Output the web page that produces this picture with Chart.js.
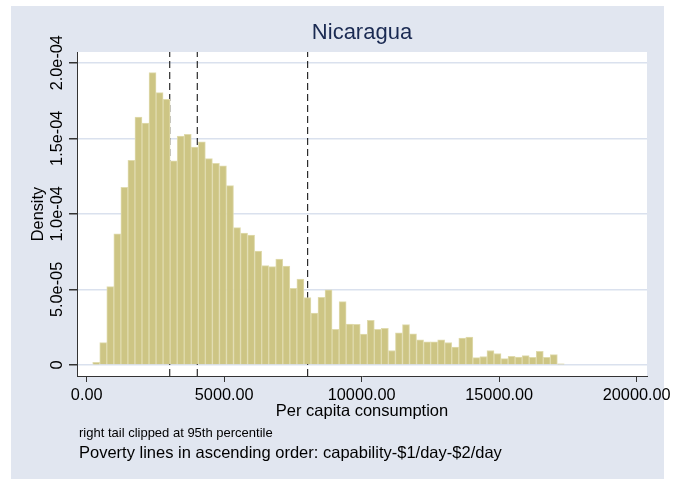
<!DOCTYPE html>
<html>
<head>
<meta charset="utf-8">
<script src="https://cdn.jsdelivr.net/npm/chart.js@4.4.0/dist/chart.umd.min.js"></script>
<style>
  body { margin: 0; background: #ffffff; }
  #panel { position: absolute; left: 11px; top: 6px; width: 653px; height: 473px; background: #e1e6f0; }
  #chart { position: absolute; left: 0; top: 0; }
  .note { position: absolute; left: 79px; color: #000; font-family: "Liberation Sans", Arial, sans-serif; white-space: nowrap; }
  #note1 { top: 426px; font-size: 13px; line-height: 13px; }
  #note2 { top: 444px; font-size: 16.5px; line-height: 16px; }
</style>
</head>
<body>
<div id="panel"></div>
<canvas id="chart" width="686" height="479"></canvas>
<div class="note" id="note1">right tail clipped at 95th percentile</div>
<div class="note" id="note2">Poverty lines in ascending order: capability-$1/day-$2/day</div>
<script>
// Histogram bins (per capita consumption)
var binStart = 218;
var binWidth = 256;
var densities = [
    0.18e-5, 1.48e-5, 5.18e-5, 8.67e-5, 11.76e-5, 13.54e-5, 16.41e-5, 16.01e-5, 19.34e-5, 18.02e-5,
    17.58e-5, 13.50e-5, 15.15e-5, 15.26e-5, 14.42e-5, 14.76e-5, 13.65e-5, 13.34e-5, 13.17e-5, 11.87e-5,
    9.09e-5, 8.73e-5, 8.60e-5, 7.54e-5, 6.57e-5, 6.51e-5, 7.01e-5, 6.55e-5, 5.07e-5, 5.69e-5,
    4.46e-5, 3.44e-5, 4.48e-5, 4.98e-5, 2.36e-5, 4.19e-5, 2.71e-5, 2.69e-5, 2.04e-5, 2.96e-5,
    2.36e-5, 2.42e-5, 0.96e-5, 2.13e-5, 2.67e-5, 2.07e-5, 1.67e-5, 1.53e-5, 1.53e-5, 1.67e-5,
    1.49e-5, 1.18e-5, 1.78e-5, 1.84e-5, 0.49e-5, 0.56e-5, 0.96e-5, 0.76e-5, 0.42e-5, 0.58e-5,
    0.53e-5, 0.62e-5, 0.51e-5, 0.91e-5, 0.51e-5, 0.69e-5, 0.07e-5
];

// Poverty lines: capability, $1/day, $2/day
var povertyLines = [3020, 4020, 8035];

// Axes
var xTicks = [0, 5000, 10000, 15000, 20000];
var xTickLabels = ['0.00', '5000.00', '10000.00', '15000.00', '20000.00'];
var yTicks = [0, 5e-5, 1e-4, 1.5e-4, 2e-4];
var yTickLabels = ['0', '5.0e-05', '1.0e-04', '1.5e-04', '2.0e-04'];
var xMin = -353, xMax = 20374;
var yMin = -7.28e-6, yMax = 2.0708e-4;

var barData = densities.map(function (d, i) {
    return { x: binStart + (i + 0.5) * binWidth, y: d };
});

var datasets = [{
    type: 'bar',
    data: barData,
    xAxisID: 'x',
    yAxisID: 'y',
    backgroundColor: 'rgb(205,197,132)',
    borderColor: 'rgb(224,219,174)',
    borderWidth: 1,
    barPercentage: 1,
    categoryPercentage: 1,
    order: 0
}];

povertyLines.forEach(function (v) {
    datasets.push({
        type: 'line',
        data: [{ x: v, y: yMin }, { x: v, y: yMax }],
        xAxisID: 'x',
        yAxisID: 'y',
        borderColor: '#000',
        borderWidth: 1,
        borderDash: [7, 4],
        pointRadius: 0,
        fill: false,
        order: 1
    });
});

// white plot region
var plotBackground = {
    id: 'plotBackground',
    beforeDraw: function (chart) {
        var a = chart.chartArea;
        var ctx = chart.ctx;
        ctx.save();
        ctx.fillStyle = '#ffffff';
        ctx.fillRect(a.left, a.top, a.right - a.left, a.bottom - a.top);
        ctx.restore();
    }
};

var family = '"Liberation Sans", Arial, sans-serif';
var tickFont = { family: family, size: 16.3 };

var ctx = document.getElementById('chart').getContext('2d');
var chart = new Chart(ctx, {
    type: 'bar',
    data: { datasets: datasets },
    plugins: [plotBackground],
    options: {
        responsive: false,
        animation: false,
        devicePixelRatio: 1,
        layout: { padding: { left: 0, right: 39, top: 0, bottom: 53 } },
        plugins: {
            legend: { display: false },
            tooltip: { enabled: false }
        },
        scales: {
            x: {
                type: 'linear',
                min: xMin,
                max: xMax,
                offset: false,
                afterBuildTicks: function (scale) {
                    scale.ticks = xTicks.map(function (v) { return { value: v }; });
                },
                afterFit: function (scale) { scale.height = 50; },
                ticks: {
                    color: '#000',
                    font: tickFont,
                    padding: 3.6,
                    maxRotation: 0,
                    callback: function (value, index) { return xTickLabels[index]; }
                },
                grid: {
                    offset: false,
                    drawOnChartArea: false,
                    drawTicks: true,
                    tickLength: 6,
                    tickColor: '#333'
                },
                border: { display: true, color: '#333', width: 1 },
                title: {
                    display: true,
                    text: 'Per capita consumption',
                    color: '#000',
                    font: { family: family, size: 16.5 },
                    padding: { top: 0, bottom: 4.9 }
                }
            },
            // top axis only carries the graph title, centred over the plot region
            top: {
                type: 'linear',
                position: 'top',
                min: xMin,
                max: xMax,
                afterFit: function (scale) { scale.height = 52; },
                ticks: { display: false },
                grid: { display: false, drawTicks: false },
                border: { display: false },
                title: {
                    display: true,
                    text: 'Nicaragua',
                    color: '#1a2a52',
                    font: { family: family, size: 22, weight: 'normal' },
                    padding: { top: 19.3, bottom: 0 }
                }
            },
            y: {
                type: 'linear',
                min: yMin,
                max: yMax,
                afterBuildTicks: function (scale) {
                    scale.ticks = yTicks.map(function (v) { return { value: v }; });
                },
                afterFit: function (scale) { scale.width = 77; },
                ticks: {
                    color: '#000',
                    font: tickFont,
                    minRotation: 90,
                    maxRotation: 90,
                    crossAlign: 'center',
                    padding: -16.6,
                    callback: function (value, index) { return yTickLabels[index]; }
                },
                grid: {
                    color: '#dae1ee',
                    lineWidth: 1.5,
                    tickLength: 8,
                    tickColor: '#333'
                },
                border: { display: true, color: '#333', width: 1 },
                title: {
                    display: true,
                    text: 'Density',
                    color: '#000',
                    font: tickFont,
                    padding: { top: 28.7, bottom: 0 }
                }
            }
        }
    }
});
</script>
</body>
</html>
